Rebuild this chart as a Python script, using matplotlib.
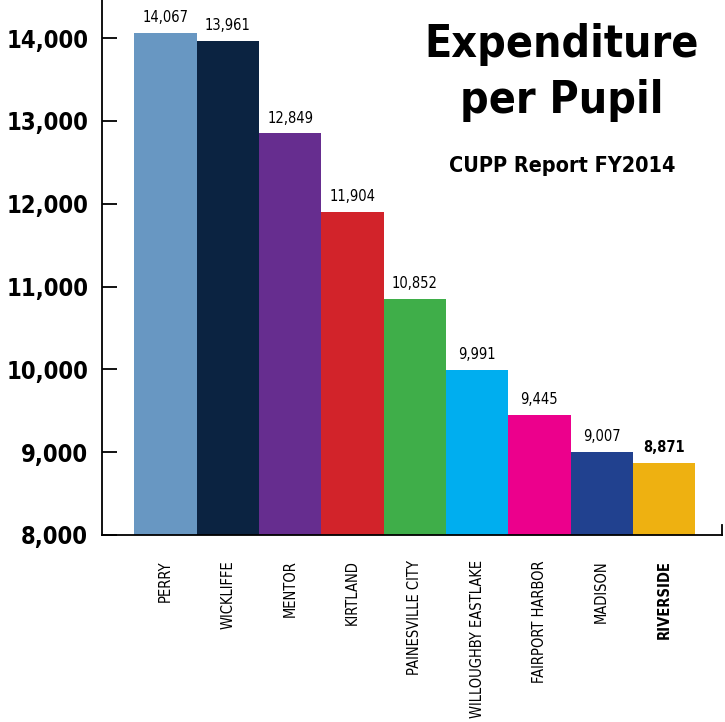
import matplotlib
matplotlib.use('Agg')
import matplotlib.pyplot as plt
import numpy as np

districts = ['PERRY', 'WICKLIFFE', 'MENTOR', 'KIRTLAND', 'PAINESVILLE CITY',
             'WILLOUGHBY EASTLAKE', 'FAIRPORT HARBOR', 'MADISON', 'RIVERSIDE']
spending = [14067, 13961, 12849, 11904, 10852, 9991, 9445, 9007, 8871]
bar_colors = ['#6897C2', '#0B2341', '#662D8F', '#D2232A', '#3FAE49',
              '#00AEEF', '#EC008C', '#21418F', '#EEB111']
y_ticks = [8000, 9000, 10000, 11000, 12000, 13000, 14000]

plt.rcParams['font.family'] = ['DejaVu Sans']
plt.rcParams['font.stretch'] = 'condensed'

fig = plt.figure(figsize=(7.25, 7.22), dpi=100)
ax = fig.add_axes([102 / 725, 1 - 535 / 722, 620 / 725, 535 / 722])

x = np.arange(len(districts))
ax.bar(x, spending, width=1.0, color=bar_colors, bottom=0)
ax.set_xlim(-1.02, 8.93)
ax.set_ylim(8000, 14460)

# value labels
for i, v in enumerate(spending):
    bold = districts[i] == 'RIVERSIDE'
    ax.text(i, v + 95, f'{v:,}', ha='center', va='bottom', fontsize=10.5,
            fontweight='bold' if bold else 'normal', color='black')

ax.set_yticks(y_ticks)
ax.set_yticklabels([f'{t:,}' for t in y_ticks], fontsize=17, fontweight='bold')
ax.tick_params(axis='y', direction='in', length=11, width=1.3, pad=10)

ax.set_xticks(x)
ax.set_xticklabels(districts, rotation=90, fontsize=10.5, va='top', ha='center')
for lbl in ax.get_xticklabels():
    if lbl.get_text() == 'RIVERSIDE':
        lbl.set_fontweight('bold')
ax.tick_params(axis='x', length=0, pad=18)

ax.spines['top'].set_visible(False)
ax.spines['left'].set_linewidth(1.3)
ax.spines['bottom'].set_linewidth(1.3)
ax.spines['right'].set_linewidth(1.3)
ax.spines['right'].set_bounds(8000, 8120)

fig.text(562 / 725, 1 - 45 / 722, 'Expenditure', ha='center', va='center',
         fontsize=32, fontweight='heavy')
fig.text(562 / 725, 1 - 100 / 722, 'per Pupil', ha='center', va='center',
         fontsize=32, fontweight='heavy')
fig.text(562 / 725, 1 - 166 / 722, 'CUPP Report FY2014', ha='center', va='center',
         fontsize=15.5, fontweight='bold')

fig.savefig('out.png', dpi=100)
